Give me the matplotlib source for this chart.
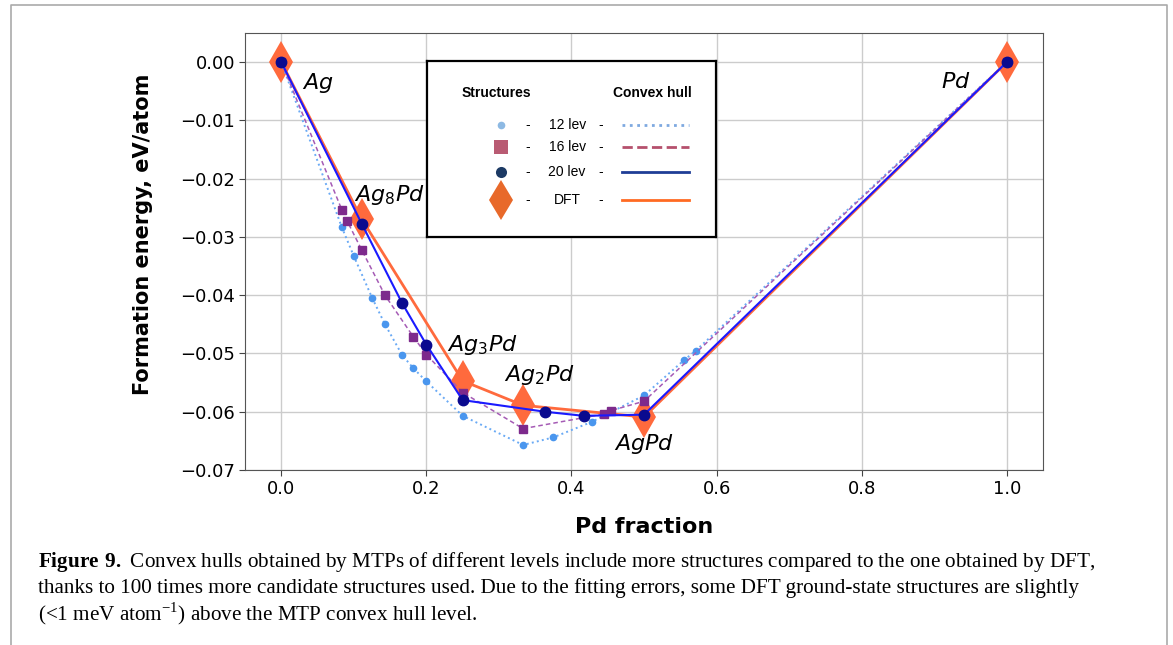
import numpy as np
import matplotlib
matplotlib.use("Agg")
import matplotlib.pyplot as plt
from matplotlib.lines import Line2D

plt.rcParams['mathtext.fontset'] = 'custom'
plt.rcParams['mathtext.rm'] = 'Liberation Serif'
plt.rcParams['mathtext.bf'] = 'Liberation Serif:bold'

# Pd fraction / formation energy (eV/atom) for each potential
x12 = [0.0, 0.0833, 0.1, 0.125, 0.1429, 0.1667, 0.1818, 0.2, 0.25, 0.3333,
       0.375, 0.4286, 0.5, 0.5556, 0.5714, 1.0]
y12 = [0.0, -0.0283, -0.0333, -0.0404, -0.0450, -0.0503, -0.0525, -0.0548,
       -0.0607, -0.0657, -0.0644, -0.0617, -0.0572, -0.0511, -0.0495, 0.0]

x16 = [0.0, 0.0833, 0.0909, 0.1111, 0.1429, 0.1818, 0.2, 0.25, 0.3333,
       0.4444, 0.4545, 0.5, 1.0]
y16 = [0.0, -0.0253, -0.0273, -0.0323, -0.0400, -0.0471, -0.0502, -0.0567,
       -0.0629, -0.0604, -0.0598, -0.0582, 0.0]

x20 = [0.0, 0.1111, 0.1667, 0.2, 0.25, 0.3636, 0.4167, 0.5, 1.0]
y20 = [0.0, -0.0278, -0.0414, -0.0485, -0.0580, -0.0600, -0.0607, -0.0605, 0.0]

xdft = [0.0, 0.1111, 0.25, 0.3333, 0.5, 1.0]
ydft = [0.0, -0.0270, -0.0547, -0.0589, -0.0609, 0.0]

phase_names = [r'$Ag$', r'$Ag_8Pd$', r'$Ag_3Pd$', r'$Ag_2Pd$', r'$AgPd$', r'$Pd$']
phase_x = [0.0497, 0.149, 0.2776, 0.356, 0.50, 0.9296]
phase_y = [-0.0035, -0.0228, -0.0486, -0.0537, -0.0655, -0.0034]

legend_labels = ['12 lev', '16 lev', '20 lev', 'DFT']

caption = [
    r'$\mathbf{Figure\ 9.}$ Convex hulls obtained by MTPs of different levels include more structures compared to the one obtained by DFT,',
    'thanks to 100 times more candidate structures used. Due to the fitting errors, some DFT ground-state structures are slightly',
    r'(<1 meV atom$^{-1}$) above the MTP convex hull level.',
]

fig = plt.figure(figsize=(11.73, 6.45), dpi=100)
ax = fig.add_axes([0.2089, 0.2713, 0.6803, 0.6775])

ax.plot(xdft, ydft, color='#ff6a3d', lw=2, marker='d', ms=21, mew=0,
        zorder=2)
ax.plot(x12, y12, color='#6aaaf5', lw=1.4, ls=':', marker='o', ms=4.5,
        mfc='#4a96ee', mec='#4a96ee', zorder=3)
ax.plot(x16, y16, color='#a55bb5', lw=1.1, ls='--', dashes=(3, 2),
        marker='s', ms=5.5, mfc='#7d2a8c', mec='#7d2a8c', zorder=3)
ax.plot(x20, y20, color='#1a1aff', lw=1.5, marker='o', ms=7.5,
        mfc='#0a0a8f', mec='#0a0a8f', zorder=4)

for name, px, py in zip(phase_names, phase_x, phase_y):
    ax.text(px, py, name, fontsize=16, ha='center', va='center',
            math_fontfamily='dejavusans', zorder=5)

ax.set_xlim(-0.05, 1.05)
ax.set_ylim(-0.07, 0.005)
ax.set_xticks([0.0, 0.2, 0.4, 0.6, 0.8, 1.0])
ax.set_yticks(np.arange(-0.07, 0.001, 0.01))
ax.yaxis.set_major_formatter(matplotlib.ticker.FuncFormatter(
    lambda v, p: ('%.2f' % v).replace('-', '\u2212') if abs(v) > 1e-9 else '0.00'))
ax.tick_params(labelsize=13, color='#444444', length=4, pad=3)
ax.grid(True, color='#cccccc', lw=1)
ax.set_axisbelow(True)
for s in ax.spines.values():
    s.set_color('#555555')
ax.set_xlabel('Pd fraction', fontsize=16, fontweight='bold')
ax.xaxis.set_label_coords(0.5, -0.107)
ax.set_ylabel('Formation energy, eV/atom', fontsize=15, fontweight='bold')
ax.yaxis.set_label_coords(-0.115, 0.54)

# hand-made legend box
lg = fig.add_axes([0.364, 0.6326, 0.2464, 0.2729])
lg.set_xlim(0, 1)
lg.set_ylim(0, 1)
lg.set_xticks([])
lg.set_yticks([])
for s in lg.spines.values():
    s.set_color('black')
    s.set_linewidth(1.6)
lfont = dict(family='Liberation Sans', fontsize=10)
lg.text(0.24, 0.82, 'Structures', fontweight='bold', ha='center', va='center', **lfont)
lg.text(0.78, 0.82, 'Convex hull', fontweight='bold', ha='center', va='center', **lfont)

row_y = [0.635, 0.51, 0.37, 0.21]
mk = [('o', 5.5, '#8db9e3'), ('s', 10, '#b95b73'), ('o', 8, '#1c3a64'), ('d', 20, '#e8692a')]
ln = [('#7ea9e0', ':'), ('#b5506d', '--'), ('#1f3d96', '-'), ('#ff6a22', '-')]
for lab, yy, (m, size, mc), (lc, ls) in zip(legend_labels, row_y, mk, ln):
    lg.plot([0.255], [yy], marker=m, ms=size, color=mc, mew=0, ls='none')
    lg.text(0.35, yy, '-', ha='center', va='center', **lfont)
    lg.text(0.485, yy, lab, ha='center', va='center', **lfont)
    lg.text(0.60, yy, '-', ha='center', va='center', **lfont)
    lg.plot([0.675, 0.905], [yy, yy], color=lc, ls=ls, lw=2)

# page frame
fig.add_artist(Line2D([11 / 1173, 11 / 1173, 1167 / 1173, 1167 / 1173],
                      [0, 1 - 5 / 645, 1 - 5 / 645, 0],
                      transform=fig.transFigure, color='#aaaaaa', lw=1.2))

for i, line in enumerate(caption):
    fig.text(38 / 1173, 1 - (562 + 26 * i) / 645, line, fontsize=15.2,
             family='Liberation Serif', va='center', ha='left',
             math_fontfamily='custom')

fig.savefig('out.png', dpi=100)
